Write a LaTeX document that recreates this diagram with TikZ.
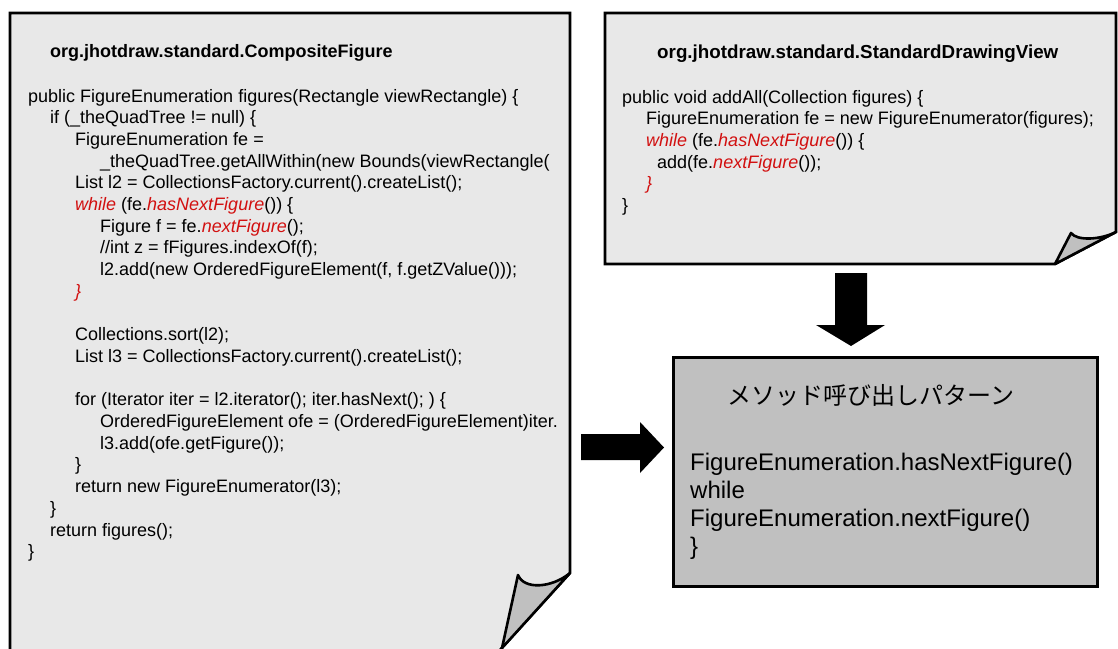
\documentclass[tikz,border=0pt]{standalone}
\usepackage{fontspec}
\setmainfont{Liberation Sans}
\newfontfamily\cjkfont{Noto Sans CJK JP}
\definecolor{paper}{RGB}{232,232,232}
\definecolor{foldgray}{RGB}{192,192,192}
\definecolor{codered}{RGB}{210,16,16}
% highlighted (red, italic) parts of the listings
\newcommand\hl[1]{\textcolor{codered}{\itshape #1}}

\begin{document}
\begin{tikzpicture}[x=1pt,y=-1pt,
  outline/.style={draw=black, line width=2.6pt, line join=miter},
  sheet/.style={outline, fill=paper},
  curl/.style={outline, fill=foldgray, line join=round},
  code/.style={anchor=base west, inner sep=0pt, font=\fontsize{18}{21}\selectfont},
  heading/.style={anchor=base west, inner sep=0pt, font=\fontsize{18}{21}\selectfont\bfseries},
  plain/.style={anchor=base west, inner sep=0pt, font=\fontsize{24}{28}\selectfont},
  blockarrow/.style={fill=black, draw=none}]

\useasboundingbox (0,0) rectangle (1118,648);

% ---------- left sheet: CompositeFigure ----------
\coordinate (sheetA) at (10,13);
\path[sheet] (10,13) -- (570,13) -- (570,573) -- (489,662) -- (10,662) -- cycle;
\path[curl] (518,575) .. controls (524,590) and (552,588) .. (570,573) -- (502,648) -- cycle;

\node[heading] (titleA) at (50,57) {org.jhotdraw.standard.CompositeFigure};
\node[code] (a0)  at (28,102.0) {public FigureEnumeration figures(Rectangle viewRectangle) \{};
\node[code] (a1)  at (50,123.7) {if (\_theQuadTree != null) \{};
\node[code] (a2)  at (75,145.4) {FigureEnumeration fe =};
\node[code] (a3)  at (100,167.1) {\_theQuadTree.getAllWithin(new Bounds(viewRectangle(};
\node[code] (a4)  at (75,188.8) {List l2 = CollectionsFactory.current().createList();};
\node[code] (a5)  at (75,210.5) {\hl{while} (fe.\hl{hasNextFigure}()) \{};
\node[code] (a6)  at (100,232.2) {Figure f = fe.\hl{nextFigure}();};
\node[code] (a7)  at (100,253.9) {//int z = fFigures.indexOf(f);};
\node[code] (a8)  at (100,275.6) {l2.add(new OrderedFigureElement(f, f.getZValue()));};
\node[code] (a9)  at (75,297.3) {\hl{\}}};
\node[code] (a11) at (75,340.7) {Collections.sort(l2);};
\node[code] (a12) at (75,362.4) {List l3 = CollectionsFactory.current().createList();};
\node[code] (a14) at (75,405.8) {for (Iterator iter = l2.iterator(); iter.hasNext(); ) \{};
\node[code] (a15) at (100,427.5) {OrderedFigureElement ofe = (OrderedFigureElement)iter.};
\node[code] (a16) at (100,449.2) {l3.add(ofe.getFigure());};
\node[code] (a17) at (75,470.9) {\}};
\node[code] (a18) at (75,492.6) {return new FigureEnumerator(l3);};
\node[code] (a19) at (50,514.3) {\}};
\node[code] (a20) at (50,536.0) {return figures();};
\node[code] (a21) at (28,557.7) {\}};

% ---------- right sheet: StandardDrawingView ----------
\coordinate (sheetB) at (605,13);
\path[sheet] (605,13) -- (1116,13) -- (1116,232) -- (1055,264) -- (605,264) -- cycle;
\path[curl] (1071,233) .. controls (1077,241) and (1100,240) .. (1116,232) -- (1055,264) -- cycle;

\node[heading, font=\fontsize{18.8}{21}\selectfont\bfseries] (titleB) at (657,58) {org.jhotdraw.standard.StandardDrawingView};
\node[code] (b0) at (622,103.0) {public void addAll(Collection figures) \{};
\node[code] (b1) at (646,124.7) {FigureEnumeration fe = new FigureEnumerator(figures);};
\node[code] (b2) at (646,146.4) {\hl{while} (fe.\hl{hasNextFigure}()) \{};
\node[code] (b3) at (657,168.1) {add(fe.\hl{nextFigure}());};
\node[code] (b4) at (646,189.8) {\hl{\}}};
\node[code] (b5) at (622,211.5) {\}};

% ---------- resulting call pattern ----------
\node[outline, fill=foldgray, anchor=north west, inner sep=0pt,
      minimum width=424pt, minimum height=229pt] (pattern) at (672,356) {};
\node[anchor=base west, inner sep=0pt, font=\cjkfont\fontsize{24}{28}\selectfont]
  (ptitle) at (727,404) {メソッド呼び出しパターン};
\node[plain] (p1) at (690,470) {FigureEnumeration.hasNextFigure()};
\node[plain] (p2) at (690,498) {while};
\node[plain] (p3) at (690,526) {FigureEnumeration.nextFigure()};
\node[plain] (p4) at (690,554.5) {\}};

% ---------- block arrows ----------
\fill[blockarrow] (835,273) -- (867,273) -- (867,325) -- (885,325) -- (851,346)
  -- (816,325) -- (835,325) -- cycle;
\fill[blockarrow] (581,434) -- (640,434) -- (640,422) -- (664,447.5) -- (640,473)
  -- (640,460) -- (581,460) -- cycle;
\end{tikzpicture}
\end{document}
